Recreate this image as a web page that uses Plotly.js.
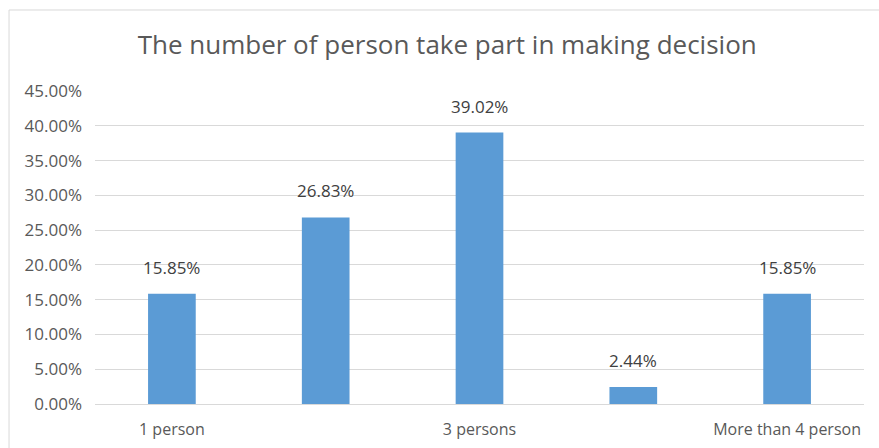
<!DOCTYPE html>
<html>
<head>
<meta charset="utf-8">
<script src="https://cdn.plot.ly/plotly-3.0.1.min.js"></script>
<style>
html,body{margin:0;padding:0;background:#fff;}
#chart{width:879px;height:448px;}
</style>
</head>
<body>
<div id="chart"></div>
<script>
const categories = ["1 person", "2 persons", "3 persons", "4 persons", "More than 4 person"];
const shares = [0.1585, 0.2683, 0.3902, 0.0244, 0.1585];
const shownTicks = ["1 person", "3 persons", "More than 4 person"];
const yTicks = [0, 0.05, 0.10, 0.15, 0.20, 0.25, 0.30, 0.35, 0.40, 0.45];

const FONT = "Open Sans, sans-serif";
const GREY = "#595959";

const trace = {
  type: "bar",
  x: categories,
  y: shares,
  marker: {color: "#5B9BD5"},
  hoverinfo: "x+y"
};

const labels = categories.map((c, i) => ({
  x: c, y: shares[i], xref: "x", yref: "y",
  text: (shares[i] * 100).toFixed(2) + "%",
  showarrow: false,
  yanchor: "bottom",
  yshift: 13,
  font: {family: FONT, size: 17, color: "#404040"}
}));

const layout = {
  width: 879,
  height: 448,
  margin: {l: 95, r: 15, t: 91, b: 44},
  paper_bgcolor: "#ffffff",
  plot_bgcolor: "#ffffff",
  bargap: 0.69,
  showlegend: false,
  title: {
    text: "The number of person take part in making decision",
    font: {family: FONT, size: 26, color: GREY},
    x: 0.458, xref: "paper", xanchor: "center",
    y: 0.9, yref: "container", yanchor: "middle"
  },
  xaxis: {
    type: "category",
    tickvals: shownTicks,
    ticktext: shownTicks,
    showline: true,
    linecolor: "#D9D9D9",
    linewidth: 1,
    showgrid: false,
    ticks: "",
    tickfont: {family: FONT, size: 16, color: GREY},
    ticklabelstandoff: 11
  },
  yaxis: {
    range: [0, 0.45],
    tickvals: yTicks,
    tickformat: ".2%",
    showgrid: true,
    gridcolor: "#D9D9D9",
    gridwidth: 1,
    zeroline: false,
    ticks: "",
    tickfont: {family: FONT, size: 17, color: GREY},
    ticklabelstandoff: 12
  },
  annotations: labels,
  shapes: [{
    type: "rect",
    xref: "paper", yref: "paper",
    x0: -0.1118, x1: 1.2, y0: -0.3, y1: 1.2588,
    line: {color: "#D9D9D9", width: 1},
    fillcolor: "rgba(0,0,0,0)",
    layer: "below"
  }]
};

Plotly.newPlot("chart", [trace], layout, {displayModeBar: false, staticPlot: true});
</script>
</body>
</html>
